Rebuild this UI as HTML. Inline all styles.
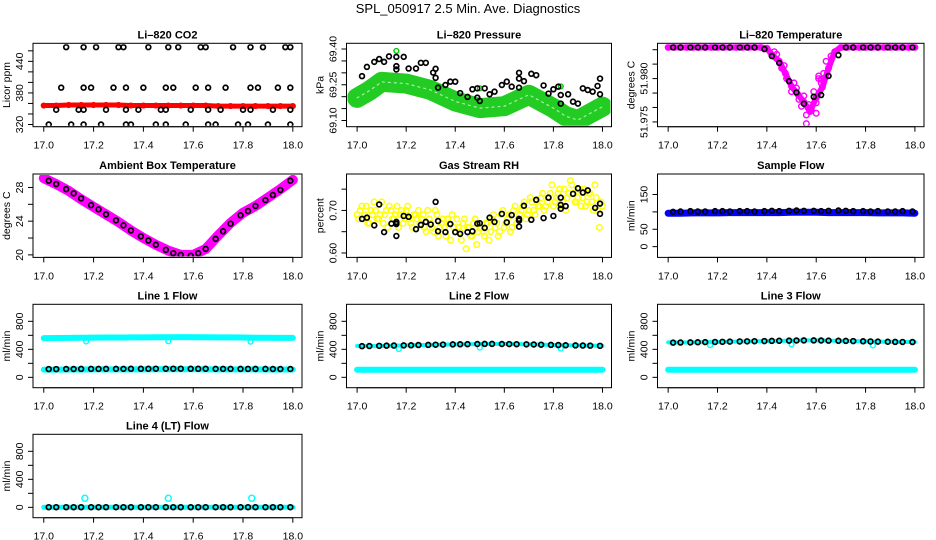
<!DOCTYPE html>
<html><head><meta charset="utf-8">
<style>
html,body{margin:0;padding:0;background:#fff;}
svg{display:block;font-family:"Liberation Sans",Arial,sans-serif;}
</style></head>
<body>
<svg id="chart" width="936" height="540" viewBox="0 0 936 540">
<text x="468" y="13" text-anchor="middle" font-size="13">SPL_050917  2.5 Min. Ave. Diagnostics</text>
</svg>
<script>
// ---------- shared data ----------
const xTicks = [17.0,17.2,17.4,17.6,17.8,18.0];
const bandTimes21 = [17.00,17.05,17.10,17.15,17.20,17.25,17.30,17.35,17.40,17.45,17.50,17.55,17.60,17.65,17.70,17.75,17.80,17.85,17.90,17.95,18.00];
const aveTimes30 = [17.02,17.05,17.09,17.12,17.15,17.19,17.22,17.25,17.29,17.32,17.35,17.39,17.42,17.45,17.49,17.52,17.55,17.59,17.62,17.65,17.69,17.72,17.75,17.79,17.82,17.85,17.89,17.92,17.95,17.99];

// CO2
const co2Red = [356,356,357,357,357,357,357,356,356,356,356,356,356,356,355,355,355,355,355,355,355];
const co2BlackTimes = [17.09,17.16,17.21,17.30,17.32,17.42,17.50,17.54,17.63,17.65,17.76,17.83,17.88,17.97,17.99,
 17.07,17.16,17.19,17.28,17.33,17.40,17.49,17.52,17.61,17.66,17.73,17.83,17.86,17.94,17.99,
 17.05,17.14,17.16,17.25,17.33,17.38,17.47,17.49,17.59,17.66,17.71,17.80,17.83,17.92,17.99,
 17.02,17.11,17.16,17.23,17.33,17.35,17.45,17.49,17.57,17.66,17.69,17.78,17.82,17.90,17.99];
const co2BlackVals = [467,467,467,467,467,467,467,467,467,467,467,467,467,467,467,
 390,390,390,390,390,390,390,390,390,390,390,390,390,390,390,
 348,348,348,348,348,348,348,348,348,348,348,348,348,348,348,
 320,320,320,320,320,320,320,320,320,320,320,320,320,320,320];

// Pressure
const presBandTimes = [17.0,17.05,17.1,17.2,17.3,17.4,17.5,17.6,17.7,17.8,17.85,17.9,17.95,18.0];
const presBand = [69.195,69.225,69.262,69.255,69.228,69.180,69.152,69.160,69.208,69.152,69.118,69.102,69.130,69.158];
const presBlackTimes = [17.02,17.04,17.07,17.09,17.11,17.13,17.16,17.16,17.16,17.19,17.21,17.24,17.26,17.28,17.31,17.32,17.32,17.33,17.36,17.38,17.40,17.42,17.45,17.47,17.49,17.49,17.50,17.52,17.54,17.56,17.59,17.61,17.63,17.66,17.66,17.66,17.68,17.71,17.73,17.76,17.78,17.80,17.82,17.83,17.83,17.86,17.88,17.90,17.92,17.94,17.96,17.98,17.99,17.99];
const presBlackVals = [69.286,69.325,69.346,69.358,69.346,69.369,69.367,69.328,69.314,69.367,69.318,69.318,69.342,69.342,69.301,69.317,69.279,69.238,69.249,69.263,69.263,69.215,69.199,69.231,69.235,69.196,69.182,69.235,69.210,69.221,69.249,69.263,69.242,69.300,69.276,69.238,69.265,69.296,69.290,69.247,69.213,69.231,69.242,69.207,69.171,69.210,69.179,69.171,69.235,69.228,69.221,69.245,69.276,69.210];
const presGreenTimes = [17.16,17.50,17.83];
const presGreenVals = [69.392,69.235,69.243];

// Li-820 temperature
const tempMagTimes = [17.0,17.025,17.05,17.075,17.1,17.125,17.15,17.175,17.2,17.225,17.25,17.275,17.3,17.325,17.35,17.375,17.4,17.425,17.45,17.475,17.5,17.525,17.55,17.575,17.6,17.625,17.65,17.675,17.7,17.725,17.75,17.775,17.8,17.825,17.85,17.875,17.9,17.925,17.95,17.975,18.0];
const tempMagVals = [51.9836,51.9836,51.9836,51.9836,51.9836,51.9836,51.9836,51.9836,51.9836,51.9836,51.9836,51.9836,51.9836,51.9836,51.9836,51.9836,51.9835,51.9826,51.9820,51.9806,51.9791,51.9782,51.9773,51.9762,51.9778,51.9790,51.9812,51.9831,51.9836,51.9836,51.9836,51.9836,51.9836,51.9836,51.9836,51.9836,51.9836,51.9836,51.9836,51.9836,51.9836];
const tempScatTimes = [17.44,17.46,17.48,17.50,17.51,17.53,17.54,17.55,17.56,17.57,17.58,17.59,17.60,17.61,17.62,17.63,17.64,17.66,17.52,17.56,17.60,17.47,17.43,17.61,17.62];
const tempScatVals = [51.9828,51.9812,51.9800,51.9785,51.9795,51.9776,51.9768,51.9780,51.9758,51.9770,51.9764,51.9785,51.9772,51.9800,51.9795,51.9806,51.9820,51.9826,51.9789,51.9748,51.9760,51.9815,51.9831,51.9803,51.9799];
const tempBlack = [51.9836,51.9836,51.9836,51.9836,51.9836,51.9836,51.9836,51.9836,51.9836,51.9836,51.9836,51.9834,51.9826,51.9818,51.9797,51.9784,51.9771,51.9779,51.9781,51.9803,51.9827,51.9836,51.9836,51.9836,51.9836,51.9836,51.9836,51.9836,51.9836,51.9836];

// Ambient box temperature
const ambBand = [29.1,28.4,27.6,26.6,25.7,24.8,23.9,22.9,22.0,21.2,20.5,20.0,20.0,20.7,22.3,23.8,25.0,25.8,26.8,27.8,28.9];
const ambBlack = [28.8,28.4,27.8,27.3,26.7,25.9,25.4,24.8,24.1,23.5,22.9,22.2,21.7,21.2,20.6,20.2,20.0,19.9,20.2,20.7,21.9,22.8,23.7,24.7,25.2,25.8,26.5,27.1,27.7,28.8];

// Gas stream RH
const rhYellowA = [0.69,0.70,0.68,0.71,0.67,0.69,0.70,0.68,0.72,0.69,0.66,0.70,0.68,0.71,0.69,0.67,0.70,0.68,0.66,0.69,0.70,
 0.68,0.66,0.70,0.67,0.65,0.69,0.66,0.68,0.64,0.67,0.69,0.65,0.66,0.63,0.68,0.66,0.64,0.67,0.62,0.66,
 0.65,0.67,0.63,0.68,0.66,0.64,0.69,0.66,0.68,0.65,0.70,0.67,0.69,0.71,0.68,0.70,0.72,0.69,0.71,0.73,
 0.70,0.72,0.74,0.71,0.73,0.75,0.72,0.70,0.74,0.76,0.72,0.73,0.71,0.75,0.72,0.74,0.70,0.73,0.66,0.71];
const rhYellowB = [0.68,0.71,0.69,0.67,0.70,0.72,0.68,0.69,0.67,0.70,0.71,0.68,0.69,0.66,0.70,0.68,0.71,0.67,0.69,0.68,
 0.67,0.69,0.65,0.68,0.66,0.70,0.64,0.67,0.66,0.68,0.63,0.66,0.68,0.65,0.67,0.61,0.66,0.64,0.68,0.65,
 0.66,0.64,0.67,0.65,0.69,0.67,0.65,0.70,0.67,0.69,0.66,0.71,0.68,0.70,0.72,0.69,0.73,0.70,0.72,0.71,
 0.74,0.71,0.73,0.76,0.72,0.74,0.71,0.75,0.73,0.77,0.74,0.72,0.75,0.73,0.71,0.74,0.72,0.76,0.70,0.72];
const rhBlackTimes = [17.02,17.04,17.07,17.09,17.11,17.14,17.16,17.16,17.16,17.16,17.19,17.21,17.24,17.26,17.28,17.30,17.32,17.33,17.33,17.36,17.38,17.40,17.42,17.45,17.47,17.49,17.50,17.52,17.54,17.56,17.59,17.61,17.63,17.66,17.66,17.66,17.68,17.71,17.73,17.76,17.78,17.80,17.83,17.83,17.83,17.85,17.88,17.90,17.92,17.94,17.97,17.99,17.99];
const rhBlackVals = [0.680,0.683,0.665,0.714,0.649,0.669,0.668,0.672,0.673,0.640,0.687,0.685,0.656,0.666,0.673,0.667,0.720,0.675,0.651,0.649,0.668,0.649,0.645,0.649,0.651,0.669,0.670,0.659,0.683,0.673,0.692,0.672,0.689,0.680,0.676,0.662,0.711,0.678,0.725,0.682,0.730,0.687,0.730,0.713,0.704,0.710,0.739,0.752,0.742,0.747,0.706,0.716,0.692];

// Sample flow
const sampleBlue = [96,96,97,97,97,98,98,98,98,98,99,99,99,98,98,98,98,97,97,97,96];
const sampleBlack = [100,101,102,101,101,102,102,101,102,102,101,102,103,102,103,104,103,103,102,103,104,103,102,102,101,102,101,101,102,101];

// Line flows
const line1CyanHigh = [560,562,564,566,567,568,569,570,571,572,573,574,573,572,571,570,568,566,565,564,563];
const line1CyanLow = [110,111,112,112,113,113,114,114,114,115,115,115,115,114,114,114,113,113,112,112,112];
const line1Black = [118,118,119,119,120,120,120,121,121,121,122,122,122,123,123,123,123,122,122,122,121,121,121,120,120,120,120,119,119,119];
const line1DipTimes = [17.17,17.50,17.83];
const line1DipVals = [512,515,510];

const line2CyanHigh = [450,446,448,452,456,460,464,467,470,473,476,477,476,474,471,467,462,458,455,452,450];
const line2CyanLow = [108,108,108,108,108,108,108,108,108,108,108,108,108,108,108,108,108,108,108,108,108];
const line2Black = [445,447,450,452,454,456,458,461,463,466,468,470,472,474,476,477,477,476,475,473,471,469,466,463,461,458,456,454,452,450];
const line2DipTimes = [17.17,17.50,17.83];
const line2DipVals = [405,425,410];

const line3CyanHigh = [500,497,499,502,505,508,512,515,518,521,524,527,527,524,521,518,514,510,507,505,504];
const line3CyanLow = [108,108,108,108,108,108,108,108,108,108,108,108,108,108,108,108,108,108,108,108,108];
const line3Black = [495,497,499,501,503,505,507,510,512,514,516,518,520,522,524,526,527,527,526,524,522,520,518,515,512,510,508,506,505,504];
const line3DipTimes = [17.17,17.50,17.83];
const line3DipVals = [460,470,455];

const line4Cyan = [2,2,2,2,2,2,2,2,2,2,2,2,2,2,2,2,2,2,2,2,2];
const line4Black = [2,2,2,2,2,2,2,2,2,2,2,2,2,2,2,2,2,2,2,2,2,2,2,2,2,2,2,2,2,2];
const line4OutTimes = [17.165,17.50,17.835];
const line4OutVals = [130,130,130];

// ---------- drawing helpers ----------
const NS = 'http://www.w3.org/2000/svg';
const svg = document.getElementById('chart');
const colBox = [[33,302],[346.5,611.5],[657.5,924]];
const rowTop = [43.3,174,304.3,434.3];
const boxH = 83.4;

function mk(tag, attrs, parent){
  const e = document.createElementNS(NS, tag);
  for (const k in attrs) e.setAttribute(k, attrs[k]);
  (parent||svg).appendChild(e);
  return e;
}

function makePanel(col,row,name,title,ylab,ymin,ymax,yticks,ylabels){
  const [L,R] = colBox[col];
  const T = rowTop[row], B = T + boxH;
  const g = mk('g',{});
  
  
  const span = (R-L)/1.08;
  const xs = t => L + (R-L)*0.04 + (t-17)*span;
  const ys = v => B - (v-ymin)/(ymax-ymin)*boxH;
  const box = mk('rect',{x:L,y:T,width:R-L,height:boxH,fill:'none',stroke:'#000','stroke-width':1},g);
  
  
  const tt = mk('text',{x:(L+R)/2,y:T-5,'text-anchor':'middle','font-size':11,'font-weight':'bold'},g);
  tt.textContent = title;
  
  
  const xa = mk('g',{},g);
  
  
  mk('line',{x1:xs(xTicks[0]),x2:xs(xTicks[xTicks.length-1]),y1:B,y2:B,stroke:'#000'},xa);
  xTicks.forEach(t=>{
    mk('line',{x1:xs(t),x2:xs(t),y1:B,y2:B+5,stroke:'#000'},xa);
    const lb = mk('text',{x:xs(t),y:B+22,'text-anchor':'middle','font-size':10.5},xa);
    lb.textContent = t.toFixed(1);
    
    
  });
  const ya = mk('g',{},g);
  
  
  mk('line',{x1:L,x2:L,y1:ys(yticks[0]),y2:ys(yticks[yticks.length-1]),stroke:'#000'},ya);
  yticks.forEach((v,i)=>{
    mk('line',{x1:L-5,x2:L,y1:ys(v),y2:ys(v),stroke:'#000'},ya);
    if (ylabels[i]){
      const lb = mk('text',{x:0,y:0,'text-anchor':'middle','font-size':10.5,transform:`translate(${L-10},${ys(v)}) rotate(-90)`},ya);
      lb.textContent = ylabels[i];
      
      
    }
  });
  const yl = mk('text',{x:0,y:0,'text-anchor':'middle','font-size':10.5,transform:`translate(${L-23},${(T+B)/2}) rotate(-90)`},ya);
  yl.textContent = ylab;
  
  
  const plot = mk('g',{},g);
  const cp = mk('clipPath',{id:'cp'+name},g);
  mk('rect',{x:L+1,y:T+1,width:R-L-2,height:boxH-2},cp);
  plot.setAttribute('clip-path','url(#cp'+name+')');
  return {xs,ys,plot};
}

function band(p,times,vals,color,w,name,dash){
  const attrs = {points:times.map((t,i)=>p.xs(t)+','+p.ys(vals[i])).join(' '),fill:'none',stroke:color,'stroke-width':w,'stroke-linecap':'round','stroke-linejoin':'round'};
  if (dash) attrs['stroke-dasharray'] = dash;
  const pl = mk('polyline',attrs,p.plot);
  
  
}
function points(p,times,vals,color,name,r,sw){
  const g = mk('g',{},p.plot);
  
  
  times.forEach((t,i)=>{
    const c = mk('circle',{cx:p.xs(t),cy:p.ys(vals[i]),r:r||2.4,fill:'none',stroke:color,'stroke-width':sw||1.4},g);
    
    
  });
}

// ---------- panels ----------
let p = makePanel(0,0,'co2','Li\u2013820 CO2','Licor ppm',315.8,474.3,[320,340,360,380,400,420,440,460],['320','','','380','','','440','']);
band(p,bandTimes21,co2Red,'#ff0000',5,'co2-red-series');
points(p,bandTimes21,co2Red,'#ff0000','co2-red-points');
points(p,co2BlackTimes,co2BlackVals,'#000','co2-black-points',2.4,1.7);

p = makePanel(1,0,'pressure','Li\u2013820 Pressure','kPa',69.074,69.424,[69.10,69.15,69.20,69.25,69.30,69.35,69.40],['69.10','','','69.25','','','69.40']);
band(p,presBandTimes,presBand,'#22cc22',20,'pressure-green-band');
band(p,presBandTimes,presBand,'#aaeeaa',1.2,'pressure-band-speckle','2 4');
points(p,presGreenTimes,presGreenVals,'#00cc00','pressure-green-outliers');
points(p,presBlackTimes,presBlackVals,'#000','pressure-black-points',2.4,1.7);

p = makePanel(2,0,'li820-temp','Li\u2013820 Temperature','degrees C',51.97445,51.98407,[51.975,51.97667,51.97833,51.98,51.98167,51.98333],['51.975','','','51.980','','']);
band(p,tempMagTimes,tempMagVals,'#ff00ff',6,'temp-magenta-band');
points(p,tempMagTimes,tempMagVals,'#ff00ff','temp-magenta-points',2.8);
points(p,tempScatTimes,tempScatVals,'#ff00ff','temp-magenta-scatter',2.8);
points(p,aveTimes30,tempBlack,'#000','temp-black-points',2.4,1.7);

p = makePanel(0,1,'ambient','Ambient Box Temperature','degrees C',19.7,29.6,[20,22,24,26,28],['20','','24','','28']);
band(p,bandTimes21,ambBand,'#ff00ff',10,'ambient-magenta-band');
points(p,aveTimes30,ambBlack,'#000','ambient-black-points',2.4,1.7);

p = makePanel(1,1,'rh','Gas Stream RH','percent',0.5896,0.7856,[0.60,0.65,0.70,0.75],['0.60','','0.70','']);
const rhTimesA = [17.0,17.0125,17.025,17.0375,17.05,17.0625,17.075,17.0875,17.1,17.1125,17.125,17.1375,17.15,17.1625,17.175,17.1875,17.2,17.2125,17.225,17.2375,17.25,17.2625,17.275,17.2875,17.3,17.3125,17.325,17.3375,17.35,17.3625,17.375,17.3875,17.4,17.4125,17.425,17.4375,17.45,17.4625,17.475,17.4875,17.5,17.5125,17.525,17.5375,17.55,17.5625,17.575,17.5875,17.6,17.6125,17.625,17.6375,17.65,17.6625,17.675,17.6875,17.7,17.7125,17.725,17.7375,17.75,17.7625,17.775,17.7875,17.8,17.8125,17.825,17.8375,17.85,17.8625,17.875,17.8875,17.9,17.9125,17.925,17.9375,17.95,17.9625,17.975,17.9875,18.0];
const rhTimesB = [17.006,17.019,17.031,17.044,17.056,17.069,17.081,17.094,17.106,17.119,17.131,17.144,17.156,17.169,17.181,17.194,17.206,17.219,17.231,17.244,17.256,17.269,17.281,17.294,17.306,17.319,17.331,17.344,17.356,17.369,17.381,17.394,17.406,17.419,17.431,17.444,17.456,17.469,17.481,17.494,17.506,17.519,17.531,17.544,17.556,17.569,17.581,17.594,17.606,17.619,17.631,17.644,17.656,17.669,17.681,17.694,17.706,17.719,17.731,17.744,17.756,17.769,17.781,17.794,17.806,17.819,17.831,17.844,17.856,17.869,17.881,17.894,17.906,17.919,17.931,17.944,17.956,17.969,17.981,17.994];
points(p,rhTimesA,rhYellowA,'#ffff00','rh-yellow-points',2.8);
points(p,rhTimesB,rhYellowB,'#ffff00','rh-yellow-points-b',2.8);
points(p,rhBlackTimes,rhBlackVals,'#000','rh-black-points',2.4,1.7);

p = makePanel(2,1,'sample-flow','Sample Flow','ml/min',-31,209,[0,50,100,150],['0','50','','150']);
band(p,bandTimes21,sampleBlue,'#0000ff',7,'sample-blue-band');
points(p,aveTimes30,sampleBlack,'#000','sample-black-points',2.4,1.7);

const flowTicks = [0,200,400,600,800], flowLabels = ['0','','400','','800'];
p = makePanel(0,2,'line1','Line 1 Flow','ml/min',-148,1043,flowTicks,flowLabels);
band(p,bandTimes21,line1CyanHigh,'#00ffff',6,'line1-cyan-high');
band(p,bandTimes21,line1CyanLow,'#00ffff',6,'line1-cyan-low');
points(p,line1DipTimes,line1DipVals,'#00ffff','line1-cyan-dips');
points(p,aveTimes30,line1Black,'#000','line1-black-points',2.4,1.7);

p = makePanel(1,2,'line2','Line 2 Flow','ml/min',-148,1043,flowTicks,flowLabels);
band(p,bandTimes21,line2CyanHigh,'#00ffff',4,'line2-cyan-high');
band(p,bandTimes21,line2CyanLow,'#00ffff',6,'line2-cyan-low');
points(p,line2DipTimes,line2DipVals,'#00ffff','line2-cyan-dips');
points(p,aveTimes30,line2Black,'#000','line2-black-points',2.4,1.7);

p = makePanel(2,2,'line3','Line 3 Flow','ml/min',-148,1043,flowTicks,flowLabels);
band(p,bandTimes21,line3CyanHigh,'#00ffff',4,'line3-cyan-high');
band(p,bandTimes21,line3CyanLow,'#00ffff',6,'line3-cyan-low');
points(p,line3DipTimes,line3DipVals,'#00ffff','line3-cyan-dips');
points(p,aveTimes30,line3Black,'#000','line3-black-points',2.4,1.7);

p = makePanel(0,3,'line4','Line 4 (LT) Flow','ml/min',-148,1043,flowTicks,flowLabels);
band(p,bandTimes21,line4Cyan,'#00ffff',5,'line4-cyan');
points(p,line4OutTimes,line4OutVals,'#00ffff','line4-cyan-outliers',3);
points(p,aveTimes30,line4Black,'#000','line4-black-points',2.4,1.7);
</script>
</body></html>
